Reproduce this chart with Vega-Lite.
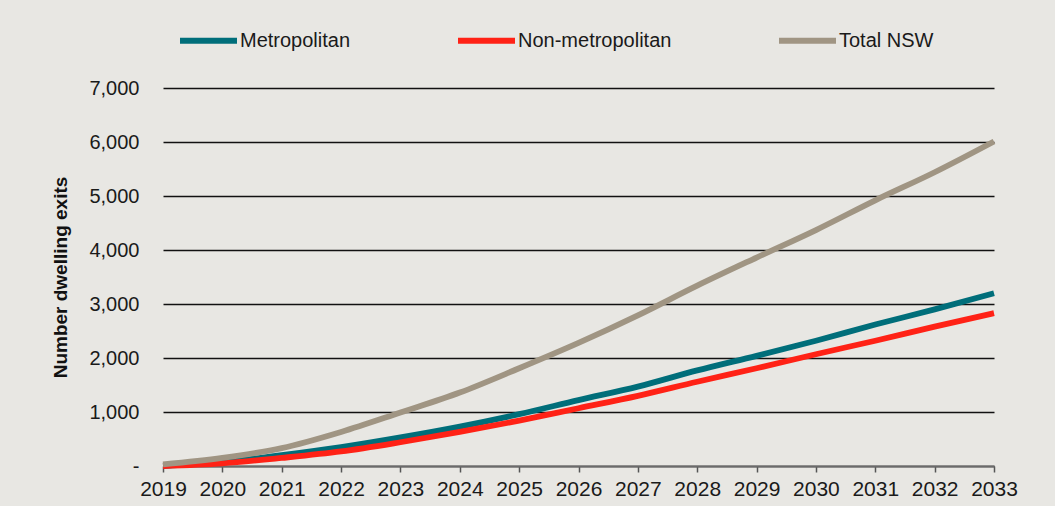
{
  "$schema": "https://vega.github.io/schema/vega-lite/v6.json",
  "width": 831,
  "height": 378,
  "autosize": "none",
  "padding": {"left": 163, "top": 88, "right": 61, "bottom": 40},
  "background": "#e8e7e3",
  "config": {
    "view": {"stroke": null},
    "font": "Liberation Sans"
  },
  "data": {
    "values": [
      {"year": 2019, "series": "Metropolitan", "value": 0},
      {"year": 2020, "series": "Metropolitan", "value": 70},
      {"year": 2021, "series": "Metropolitan", "value": 200},
      {"year": 2022, "series": "Metropolitan", "value": 350},
      {"year": 2023, "series": "Metropolitan", "value": 530},
      {"year": 2024, "series": "Metropolitan", "value": 730},
      {"year": 2025, "series": "Metropolitan", "value": 960},
      {"year": 2026, "series": "Metropolitan", "value": 1220},
      {"year": 2027, "series": "Metropolitan", "value": 1470},
      {"year": 2028, "series": "Metropolitan", "value": 1770},
      {"year": 2029, "series": "Metropolitan", "value": 2040},
      {"year": 2030, "series": "Metropolitan", "value": 2320},
      {"year": 2031, "series": "Metropolitan", "value": 2620},
      {"year": 2032, "series": "Metropolitan", "value": 2900},
      {"year": 2033, "series": "Metropolitan", "value": 3200},
      {"year": 2019, "series": "Non-metropolitan", "value": 0},
      {"year": 2020, "series": "Non-metropolitan", "value": 50},
      {"year": 2021, "series": "Non-metropolitan", "value": 150},
      {"year": 2022, "series": "Non-metropolitan", "value": 270},
      {"year": 2023, "series": "Non-metropolitan", "value": 440},
      {"year": 2024, "series": "Non-metropolitan", "value": 630},
      {"year": 2025, "series": "Non-metropolitan", "value": 840},
      {"year": 2026, "series": "Non-metropolitan", "value": 1070},
      {"year": 2027, "series": "Non-metropolitan", "value": 1300},
      {"year": 2028, "series": "Non-metropolitan", "value": 1560},
      {"year": 2029, "series": "Non-metropolitan", "value": 1810},
      {"year": 2030, "series": "Non-metropolitan", "value": 2070},
      {"year": 2031, "series": "Non-metropolitan", "value": 2320},
      {"year": 2032, "series": "Non-metropolitan", "value": 2580},
      {"year": 2033, "series": "Non-metropolitan", "value": 2830},
      {"year": 2019, "series": "Total NSW", "value": 30},
      {"year": 2020, "series": "Total NSW", "value": 150},
      {"year": 2021, "series": "Total NSW", "value": 330},
      {"year": 2022, "series": "Total NSW", "value": 630},
      {"year": 2023, "series": "Total NSW", "value": 990},
      {"year": 2024, "series": "Total NSW", "value": 1360},
      {"year": 2025, "series": "Total NSW", "value": 1810},
      {"year": 2026, "series": "Total NSW", "value": 2280},
      {"year": 2027, "series": "Total NSW", "value": 2790},
      {"year": 2028, "series": "Total NSW", "value": 3340},
      {"year": 2029, "series": "Total NSW", "value": 3860},
      {"year": 2030, "series": "Total NSW", "value": 4370},
      {"year": 2031, "series": "Total NSW", "value": 4920},
      {"year": 2032, "series": "Total NSW", "value": 5440},
      {"year": 2033, "series": "Total NSW", "value": 6010}
    ]
  },
  "mark": {"type": "line", "strokeWidth": 5.8, "interpolate": "monotone", "strokeCap": "butt"},
  "encoding": {
    "x": {
      "field": "year",
      "type": "quantitative",
      "scale": {"domain": [2019, 2033], "nice": false, "zero": false},
      "axis": {
        "title": null,
        "values": [2019, 2020, 2021, 2022, 2023, 2024, 2025, 2026, 2027, 2028, 2029, 2030, 2031, 2032, 2033],
        "format": "d",
        "grid": false,
        "domainColor": "#6b6b6b",
        "domainWidth": 2,
        "tickColor": "#555555",
        "tickWidth": 1.5,
        "tickSize": 6,
        "labelFontSize": 21,
        "labelColor": "#1a1a1a",
        "labelPadding": 6,
        "labelFlush": false,
        "labelOverlap": false
      }
    },
    "y": {
      "field": "value",
      "type": "quantitative",
      "scale": {"domain": [0, 7000], "nice": false},
      "axis": {
        "title": "Number dwelling exits",
        "titleFontSize": 19,
        "titleFontWeight": "bold",
        "titleColor": "#111111",
        "titlePadding": 18,
        "values": [0, 1000, 2000, 3000, 4000, 5000, 6000, 7000],
        "labelExpr": "datum.value == 0 ? '-' : format(datum.value, ',')",
        "labelFontSize": 20,
        "labelColor": "#1a1a1a",
        "labelPadding": 24,
        "ticks": false,
        "domain": false,
        "grid": true,
        "gridColor": "#111111",
        "gridWidth": 1.3
      }
    },
    "color": {
      "field": "series",
      "type": "nominal",
      "sort": ["Metropolitan", "Non-metropolitan", "Total NSW"],
      "scale": {
        "domain": ["Metropolitan", "Non-metropolitan", "Total NSW"],
        "range": ["#006e7a", "#ff2216", "#a09583"]
      },
      "legend": {
        "title": null,
        "orient": "none",
        "direction": "horizontal",
        "legendX": 14,
        "legendY": -79,
        "padding": 0,
        "symbolType": "stroke",
        "symbolSize": 3249,
        "symbolStrokeWidth": 6,
        "labelFontSize": 20,
        "labelColor": "#1a1a1a",
        "labelOffset": 0,
        "columnPadding": 95,
        "labelLimit": 300
      }
    },
    "order": {"field": "series"}
  }
}
